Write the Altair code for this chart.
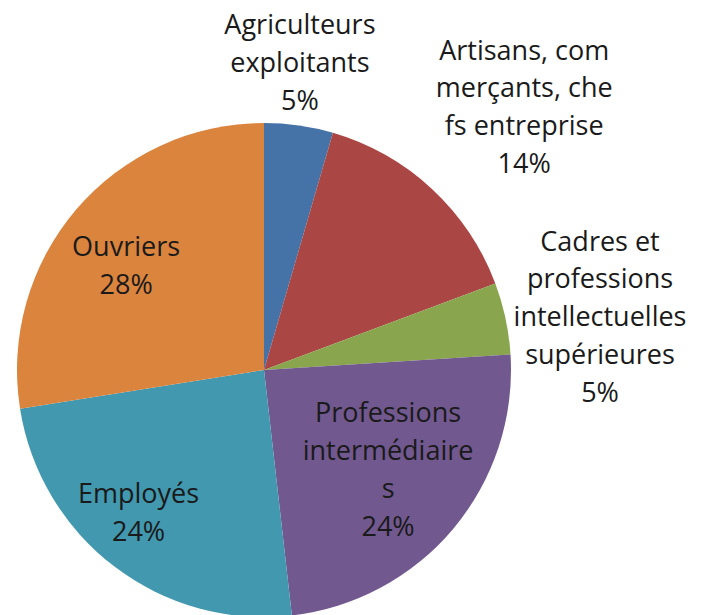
import math
import altair as alt
import pandas as pd

# ---- data ----
categories = [
    "Agriculteurs exploitants",
    "Artisans, commerçants, chefs entreprise",
    "Cadres et professions intellectuelles supérieures",
    "Professions intermédiaires",
    "Employés",
    "Ouvriers",
]
labels = [
    "Agriculteurs\nexploitants\n5%",
    "Artisans, com\nmerçants, che\nfs entreprise\n14%",
    "Cadres et\nprofessions\nintellectuelles\nsupérieures\n5%",
    "Professions\nintermédiaire\ns\n24%",
    "Employés\n24%",
    "Ouvriers\n28%",
]
values = [4.5, 14.8, 4.7, 24.2, 24.3, 27.5]
colors = ["#4572A7", "#AA4643", "#89A54E", "#71588F", "#4198AF", "#DB843D"]

# ---- layout (label placement, not data) ----
CX, CY, R = 256, 362, 247
LINE_H = 37.8
label_radius = [308, 369, 340, 160, 191, 172]
label_angle_shift_deg = [-1.4, 2.0, 3.3, -0.8, 3.8, -3.8]
total = sum(values)

# Vega puts the first line of a multi-line label at the anchor: move the
# anchor up so that the whole block is centred where wanted.
shift_pct, radius_px = [], []
cum = 0.0
for v, lab, r, sh in zip(values, labels, label_radius, label_angle_shift_deg):
    mid = cum + v / 2
    cum += v
    ang = math.radians(mid / total * 360 + sh)
    px, py = r * math.sin(ang), -r * math.cos(ang)
    n = lab.count("\n") + 1
    py -= (n - 1) * LINE_H / 2
    r2 = math.hypot(px, py)
    a2 = math.degrees(math.atan2(px, -py)) % 360
    shift_pct.append(a2 / 360 * total - mid)
    radius_px.append(r2)

df = pd.DataFrame({
    "cat": categories,
    "label": labels,
    "value": values,
    "idx": list(range(len(categories))),
})

theta_scale = alt.Scale(domain=[0, total])
color_scale = alt.Scale(domain=categories, range=colors)

base = alt.Chart(df)

pie = base.mark_arc(radius=R, strokeWidth=0).encode(
    theta=alt.Theta("value:Q", stack=True, scale=theta_scale),
    color=alt.Color("cat:N", scale=color_scale, legend=None),
    order=alt.Order("idx:Q"),
    x=alt.value(CX),
    y=alt.value(CY),
)

shift_expr = "[" + ",".join(f"{s:.4f}" for s in shift_pct) + "][datum.idx]"
rad_expr = "[" + ",".join(f"{r:.2f}" for r in radius_px) + "][datum.idx]"

text = base.transform_window(
    cum="sum(value)", sort=[alt.SortField("idx")], frame=[None, 0]
).transform_calculate(
    mid="datum.cum - datum.value / 2 + " + shift_expr,
    lr=rad_expr,
).mark_text(
    font="Open Sans", fontSize=27, color="#1a1a1a", lineBreak="\n",
    lineHeight=LINE_H, align="center", baseline="middle",
).encode(
    theta=alt.Theta("mid:Q", scale=theta_scale, stack=None),
    radius=alt.Radius("lr:Q", scale=None),
    text="label:N",
    x=alt.value(CX),
    y=alt.value(CY),
)

chart = alt.layer(pie, text).properties(
    width=685, height=599, padding=0, background="white"
).configure_view(strokeWidth=0, stroke="transparent")

chart.save("out.html", embed_options={"renderer": "svg", "actions": False})
